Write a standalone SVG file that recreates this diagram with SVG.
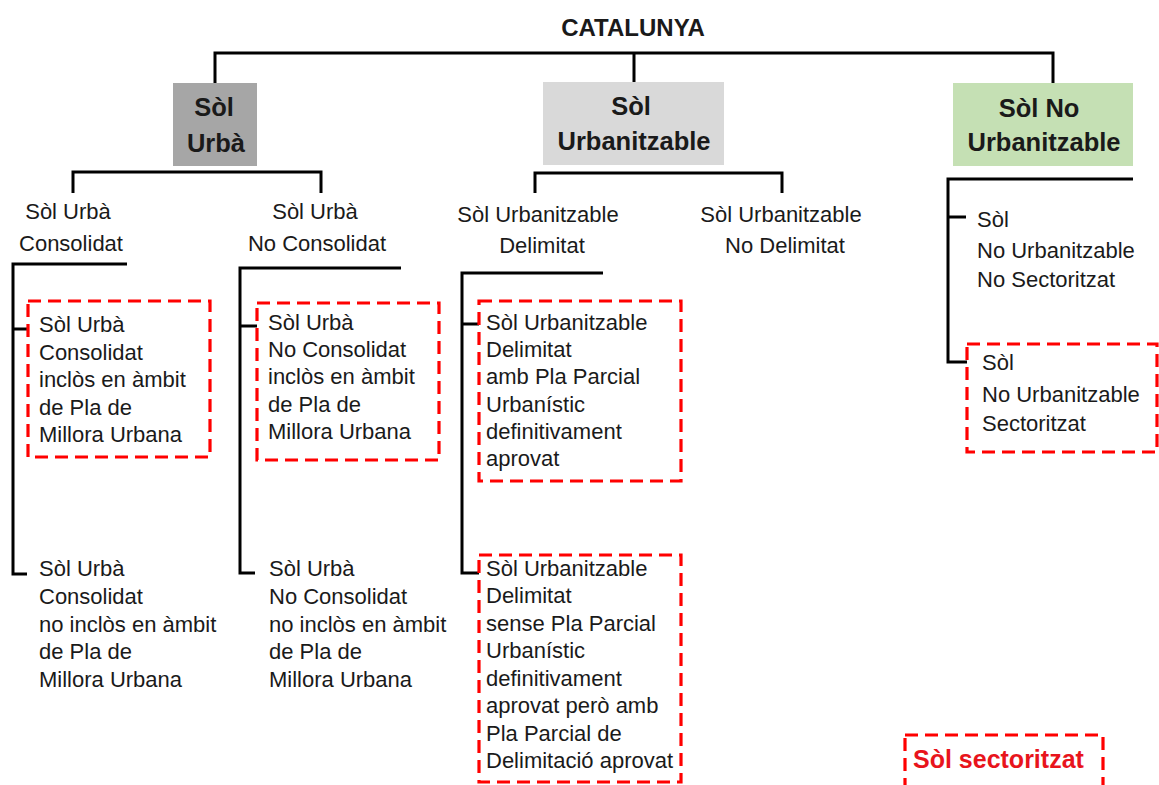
<svg xmlns="http://www.w3.org/2000/svg" width="1159" height="785" viewBox="0 0 1159 785">
<style>
text{font-family:"Liberation Sans",Arial,sans-serif;fill:#1a1a1a}
.t{font-size:22px}
.b{font-size:25.5px;font-weight:bold;text-anchor:middle}
.m{text-anchor:middle}
.ln{fill:none;stroke:#000;stroke-width:3}
.dash{fill:none;stroke:#ff0000;stroke-width:3.2;stroke-dasharray:13 7}
</style>
<rect width="1159" height="785" fill="#fff"/>
<g id="connectors">
<path class="ln" d="M215,83 V53 H1053 V83 M634,53 V83"/>
<path class="ln" d="M73,193 V172 H321 V193"/>
<path class="ln" d="M535,193 V173 H782 V193"/>
<path class="ln" d="M127,264 H13 V574 H27 M13,329 H28"/>
<path class="ln" d="M401,268 H240 V573 H255 M240,326 H257"/>
<path class="ln" d="M603,273 H462 V573 H479 M462,324 H479"/>
<path class="ln" d="M1133,179 H948 V362 H967 M948,217 H966"/>
</g>
<g id="root"><text x="633" y="36" style="font-size:24px;font-weight:bold;text-anchor:middle">CATALUNYA</text></g>
<g id="urba">
<rect x="173" y="83" width="84" height="83" fill="#a6a6a6"/>
<text class="b" x="214" y="116">Sòl</text>
<text class="b" x="216" y="152">Urbà</text>
</g>
<g id="urbanitzable">
<rect x="543" y="82" width="181" height="83" fill="#d9d9d9"/>
<text class="b" x="631" y="115">Sòl</text>
<text class="b" x="634" y="150">Urbanitzable</text>
</g>
<g id="nourbanitzable">
<rect x="953" y="83" width="180" height="83" fill="#c5e0b4"/>
<text class="b" x="1039" y="117">Sòl No</text>
<text class="b" x="1044" y="151">Urbanitzable</text>
</g>
<g id="consolidat">
<text class="t m" x="68" y="219">Sòl Urbà</text>
<text class="t m" x="71" y="251">Consolidat</text>
</g>
<g id="noconsolidat">
<text class="t m" x="315" y="219">Sòl Urbà</text>
<text class="t m" x="317" y="251">No Consolidat</text>
</g>
<g id="delimitat">
<text class="t m" x="538" y="222">Sòl Urbanitzable</text>
<text class="t m" x="542" y="253">Delimitat</text>
</g>
<g id="nodelimitat">
<text class="t m" x="781" y="222">Sòl Urbanitzable</text>
<text class="t m" x="785" y="253">No Delimitat</text>
</g>
<g id="c-inclos">
<rect class="dash" x="28" y="301" width="182" height="156"/>
<text class="t" x="39" y="332">Sòl Urbà</text>
<text class="t" x="39" y="360">Consolidat</text>
<text class="t" x="39" y="387">inclòs en àmbit</text>
<text class="t" x="39" y="415">de Pla de</text>
<text class="t" x="39" y="442">Millora Urbana</text>
</g>
<g id="nc-inclos">
<rect class="dash" x="257" y="303" width="182" height="157"/>
<text class="t" x="268" y="330">Sòl Urbà</text>
<text class="t" x="268" y="357">No Consolidat</text>
<text class="t" x="268" y="384">inclòs en àmbit</text>
<text class="t" x="268" y="412">de Pla de</text>
<text class="t" x="268" y="439">Millora Urbana</text>
</g>
<g id="c-noinclos">
<text class="t" x="39" y="576">Sòl Urbà</text>
<text class="t" x="39" y="604">Consolidat</text>
<text class="t" x="39" y="632">no inclòs en àmbit</text>
<text class="t" x="39" y="659">de Pla de</text>
<text class="t" x="39" y="687">Millora Urbana</text>
</g>
<g id="nc-noinclos">
<text class="t" x="269" y="576">Sòl Urbà</text>
<text class="t" x="269" y="604">No Consolidat</text>
<text class="t" x="269" y="632">no inclòs en àmbit</text>
<text class="t" x="269" y="659">de Pla de</text>
<text class="t" x="269" y="687">Millora Urbana</text>
</g>
<g id="d-amb">
<rect class="dash" x="479" y="301" width="202" height="180"/>
<text class="t" x="486" y="330">Sòl Urbanitzable</text>
<text class="t" x="486" y="357">Delimitat</text>
<text class="t" x="486" y="384">amb Pla Parcial</text>
<text class="t" x="486" y="412">Urbanístic</text>
<text class="t" x="486" y="439">definitivament</text>
<text class="t" x="486" y="466">aprovat</text>
</g>
<g id="d-sense">
<rect class="dash" x="479" y="555" width="202" height="227"/>
<text class="t" x="486" y="576">Sòl Urbanitzable</text>
<text class="t" x="486" y="603">Delimitat</text>
<text class="t" x="486" y="631">sense Pla Parcial</text>
<text class="t" x="486" y="658">Urbanístic</text>
<text class="t" x="486" y="686">definitivament</text>
<text class="t" x="486" y="713">aprovat però amb</text>
<text class="t" x="486" y="741">Pla Parcial de</text>
<text class="t" x="486" y="768">Delimitació aprovat</text>
</g>
<g id="nu-nosect">
<text class="t" x="977" y="227">Sòl</text>
<text class="t" x="977" y="258">No Urbanitzable</text>
<text class="t" x="977" y="287">No Sectoritzat</text>
</g>
<g id="nu-sect">
<rect class="dash" x="967" y="344" width="190" height="108"/>
<text class="t" x="982" y="370">Sòl</text>
<text class="t" x="982" y="402">No Urbanitzable</text>
<text class="t" x="982" y="431">Sectoritzat</text>
</g>
<g id="legend">
<rect class="dash" x="905" y="735" width="198" height="60"/>
<text x="913" y="768" style="font-size:25px;font-weight:bold;fill:#e8141c">Sòl sectoritzat</text>
</g>
</svg>
